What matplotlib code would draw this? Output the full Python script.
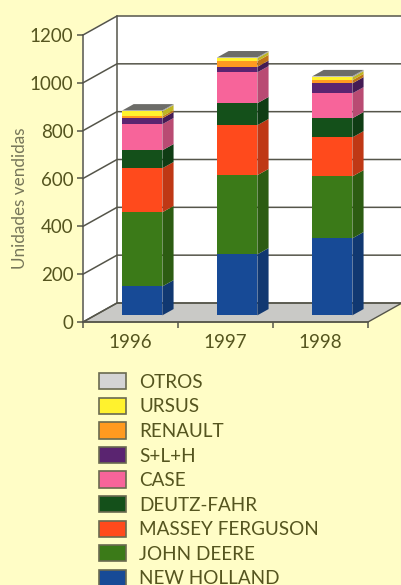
import matplotlib.pyplot as plt
import matplotlib.colors as mcolors
from matplotlib.patches import Patch

# Data
years = ["1996", "1997", "1998"]
brands = [
    "NEW HOLLAND", "JOHN DEERE", "MASSEY FERGUSON", "DEUTZ-FAHR", "CASE",
    "S+L+H", "RENAULT", "URSUS", "OTROS",
]
new_holland = [121, 255, 322]
john_deere = [310, 331, 259]
massey_ferguson = [184, 209, 163]
deutz_fahr = [75, 92, 80]
case = [109, 129, 104]
slh = [25, 23, 42]
renault = [8, 24, 13]
ursus = [21, 12, 12]
otros = [4, 4, 5]
y_ticks = [0, 200, 400, 600, 800, 1000, 1200]

# Style
width_px, height_px = 401, 585
bg_color = "#FFFDC6"
text_color = "#55551F"
line_color = "#55554A"
brand_colors = [
    "#174A96", "#3B7A18", "#FF4A1C", "#14501A", "#F7649A",
    "#5A2470", "#FF9A20", "#FFF22E", "#D4D4D4",
]
plt.rcParams["font.family"] = "Lato"

series = [new_holland, john_deere, massey_ferguson, deutz_fahr, case,
          slh, renault, ursus, otros]

# Front plane of the 3D box, in pixels
left, right, y_zero, y_top = 83, 368, 322, 35
depth_x = 34 / ((right - left) / 3)  # in categories
depth_y = 19 / ((y_zero - y_top) / 1200)  # in units
bar_width = 0.42
bar_start = 0.35
bar_depth = 0.33
legend_font_px = 18.9


def darken(color, factor=0.75):
    r, g, b = mcolors.to_rgb(color)
    return (r * factor, g * factor, b * factor)


figure = plt.figure(figsize=(width_px / 100, height_px / 100), dpi=100, facecolor=bg_color)
axis = figure.add_axes([
    left / width_px,
    1 - y_zero / height_px,
    (right - left) / width_px,
    (y_zero - y_top) / height_px,
])
axis.patch.set_visible(False)
axis.set_xlim(0, 3)
axis.set_ylim(0, 1200)

# Walls and floor
axis.fill([depth_x, 3.6, 3.6, depth_x], [depth_y, depth_y, 1200 + depth_y, 1200 + depth_y],
          color="white", clip_on=False, zorder=1)
axis.fill([0, depth_x, depth_x, 0], [0, depth_y, 1200 + depth_y, 1200],
          color="white", clip_on=False, zorder=1)
axis.fill([0, 3, 3 + depth_x, depth_x], [0, 0, depth_y, depth_y],
          facecolor="#C9C9C6", edgecolor=line_color, linewidth=1, clip_on=False, zorder=2)

for tick in y_ticks:
    axis.plot([0, depth_x, 3.6], [tick, tick + depth_y, tick + depth_y],
              color=line_color, linewidth=1.1, clip_on=False, zorder=2)
axis.plot([depth_x, depth_x], [depth_y, 1200 + depth_y], color=line_color,
          linewidth=1.1, clip_on=False, zorder=2)

# Stacked bars
for i in range(len(years)):
    x0 = i + 0.5 - bar_width / 2 + bar_start * depth_x
    x1 = x0 + bar_width
    base = bar_start * depth_y
    dx = bar_depth * depth_x
    dy = bar_depth * depth_y
    bottom = 0
    for values, color in zip(series, brand_colors):
        top = bottom + values[i]
        axis.fill([x0, x1, x1, x0], [base + bottom, base + bottom, base + top, base + top],
                  color=color, linewidth=0, clip_on=False, zorder=3)
        axis.fill([x1, x1 + dx, x1 + dx, x1],
                  [base + bottom, base + bottom + dy, base + top + dy, base + top],
                  color=darken(color), linewidth=0, clip_on=False, zorder=3)
        bottom = top
    axis.fill([x0, x1, x1 + dx, x0 + dx],
              [base + bottom, base + bottom, base + bottom + dy, base + bottom + dy],
              color="#6C6C68", linewidth=0, clip_on=False, zorder=3)

# Axes
for side in ("top", "right"):
    axis.spines[side].set_visible(False)
for side in ("left", "bottom"):
    axis.spines[side].set_color(line_color)
    axis.spines[side].set_linewidth(1.1)
    axis.spines[side].set_zorder(4)

axis.set_yticks(y_ticks)
axis.set_xticks([0, 1, 2, 3])
axis.set_xticklabels([])
axis.set_xticks([0.5, 1.5, 2.5], minor=True)
axis.set_xticklabels(years, minor=True)
axis.tick_params(axis="both", which="major", length=4, width=1.1, color=line_color,
                 labelsize=13.5, labelcolor=text_color, pad=3)
axis.tick_params(axis="x", which="minor", length=0, labelsize=13.5, labelcolor=text_color, pad=9)
axis.set_ylabel("Unidades vendidas", fontsize=12.3, color="#77775A")
axis.yaxis.set_label_coords(-0.193, 0.432)

# Legend, top entry first
handles = [
    Patch(facecolor=color, edgecolor="#6A6A50", linewidth=1.2, label=name)
    for name, color in zip(brands, brand_colors)
][::-1]
figure.legend(
    handles=handles,
    loc="upper left",
    bbox_to_anchor=(93.7 / width_px, 1 - 367.5 / height_px),
    frameon=False,
    fontsize=13.6,
    labelcolor=text_color,
    handlelength=27 / legend_font_px,
    handleheight=18 / legend_font_px,
    handletextpad=13 / legend_font_px,
    labelspacing=0.366,
    borderpad=0.3,
    borderaxespad=0,
)

figure.savefig("out.png", dpi=100, facecolor=bg_color)
